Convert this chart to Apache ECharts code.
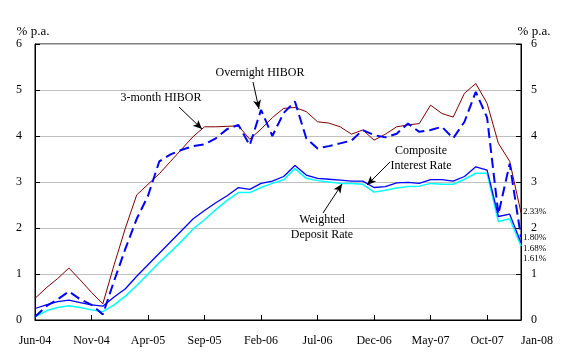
<!DOCTYPE html>
<html><head><meta charset="utf-8">
<script src="https://cdn.jsdelivr.net/npm/echarts@6/dist/echarts.min.js"></script>
<style>html,body{margin:0;padding:0;background:#fff}#c{width:561px;height:356px}</style>
</head><body><div id="c"></div>
<script>
const months = ['Jun-04','Jul-04','Aug-04','Sep-04','Oct-04','Nov-04','Dec-04',
  'Jan-05','Feb-05','Mar-05','Apr-05','May-05','Jun-05','Jul-05','Aug-05','Sep-05','Oct-05','Nov-05','Dec-05',
  'Jan-06','Feb-06','Mar-06','Apr-06','May-06','Jun-06','Jul-06','Aug-06','Sep-06','Oct-06','Nov-06','Dec-06',
  'Jan-07','Feb-07','Mar-07','Apr-07','May-07','Jun-07','Jul-07','Aug-07','Sep-07','Oct-07','Nov-07','Dec-07',
  'Jan-08'];
const hibor3m = [0.47,0.70,0.90,1.13,0.87,0.60,0.35,1.20,2.00,2.72,2.95,3.18,3.45,3.72,3.99,4.20,4.20,4.21,4.22,3.93,
  4.15,4.40,4.60,4.62,4.53,4.31,4.28,4.20,4.04,4.13,3.91,4.04,4.20,4.24,4.27,4.67,4.49,4.41,4.93,5.14,4.71,3.84,3.45,2.33];
const overnight = [0.07,0.30,0.45,0.62,0.45,0.33,0.12,0.85,1.55,2.20,2.70,3.45,3.60,3.70,3.78,3.82,3.95,4.15,4.24,3.80,
  4.57,4.00,4.50,4.75,3.95,3.73,3.78,3.84,3.90,4.13,4.02,3.97,4.05,4.27,4.09,4.13,4.20,3.95,4.31,4.96,4.40,2.30,3.40,1.80];
const composite = [0.25,0.33,0.40,0.43,0.38,0.33,0.30,0.50,0.68,0.95,1.20,1.45,1.70,1.95,2.20,2.38,2.55,2.70,2.88,2.84,
  2.97,3.02,3.12,3.36,3.15,3.08,3.06,3.04,3.02,3.02,2.88,2.90,2.98,2.99,2.97,3.05,3.05,3.02,3.12,3.33,3.26,2.25,2.30,1.68];
const deposit = [0.07,0.20,0.27,0.31,0.27,0.22,0.18,0.33,0.52,0.75,1.00,1.25,1.48,1.72,1.98,2.18,2.40,2.60,2.77,2.77,
  2.88,2.97,3.05,3.29,3.08,3.03,3.00,2.97,2.97,2.95,2.78,2.82,2.87,2.90,2.91,2.97,2.95,2.95,3.06,3.19,3.19,2.14,2.20,1.61];
const yMin = 0, yMax = 6, yStep = 1;
const unitName = '% p.a.';

const FF = "'Liberation Serif','Times New Roman',serif";
const chart = echarts.init(document.getElementById('c'), null, {renderer:'canvas'});
const lastIdx = months.length - 1;
const showTick = (i) => i % 5 === 0 || i === lastIdx;
function yAxisCfg(pos) {
  return {
    type:'value', position:pos, min:yMin, max:yMax, interval:yStep,
    name: unitName, nameLocation:'end', nameGap:5,
    nameTextStyle:{fontFamily:FF, fontSize:13, color:'#000', align:'center',
      padding: pos==='left' ? [0,4,0,0] : [0,0,0,26]},
    axisLine:{show:true, lineStyle:{color:'#000', width:1}},
    axisTick:{show:true, inside:true, length:5, lineStyle:{color:'#000'}},
    axisLabel:{fontFamily:FF, fontSize:12, color:'#000', margin: pos==='left' ? 13 : 10},
    splitLine:{show: pos==='left', lineStyle:{color:'#c0c0c0', width:1}}
  };
}
function endLbl(dy) {
  return {show:true, fontFamily:FF, fontSize:9, color:'#000', distance:2, offset:[0,dy],
    formatter:(p)=> p.value.toFixed(2) + '%'};
}
const option = {
  animation:false,
  backgroundColor:'#fff',
  grid:{left:35, right:40, top:44, bottom:36, show:true, borderColor:'#000', borderWidth:1},
  xAxis:{type:'category', data:months, boundaryGap:false,
    axisLine:{lineStyle:{color:'#000', width:1}},
    axisTick:{show:true, inside:true, length:5, interval:(i)=>showTick(i), lineStyle:{color:'#000'}},
    axisLabel:{interval:(i)=>showTick(i), fontFamily:FF, fontSize:12, color:'#000', margin:15,
      formatter:(v,i)=> i===lastIdx ? '{j|'+v+'}' : v,
      rich:{j:{fontFamily:FF, fontSize:12, color:'#000', width:64, align:'right', padding:[0,0,5,0]}}},
    splitLine:{show:false}
  },
  yAxis:[yAxisCfg('left'), yAxisCfg('right')],
  series:[
    {name:'Weighted Deposit Rate', type:'line', data:deposit, symbol:'none', lineStyle:{color:'#00ffff', width:1.5},
      itemStyle:{color:'#00ffff'}, endLabel:endLbl(13), z:2,
      markLine:{silent:true, symbol:['none','arrow'], symbolSize:[6,9], animation:false,
        lineStyle:{color:'#000', width:1, type:'solid'}, label:{show:false},
        data:[
          [{x:179,y:107},{x:202,y:129}],
          [{x:253,y:82},{x:259,y:109}],
          [{x:390,y:162},{x:367,y:185}],
          [{x:323,y:213},{x:342,y:184}]
        ]}},
    {name:'Composite Interest Rate', type:'line', data:composite, symbol:'none', lineStyle:{color:'#0000ff', width:1.3},
      itemStyle:{color:'#0000ff'}, endLabel:endLbl(6), z:3},
    {name:'3-month HIBOR', type:'line', data:hibor3m, symbol:'none', lineStyle:{color:'#800000', width:1},
      itemStyle:{color:'#800000'}, endLabel:endLbl(-1), z:4},
    {name:'Overnight HIBOR', type:'line', data:overnight, symbol:'none',
      lineStyle:{color:'#0000ff', width:2, type:[10,5]}, itemStyle:{color:'#0000ff'}, endLabel:endLbl(0), z:5}
  ],
  graphic:[
    {type:'text', x:260, y:73, style:{text:'Overnight HIBOR', font:'12px '+FF, fill:'#000', align:'center', verticalAlign:'middle'}},
    {type:'text', x:161, y:98, style:{text:'3-month HIBOR', font:'12px '+FF, fill:'#000', align:'center', verticalAlign:'middle'}},
    {type:'text', x:421, y:158, style:{text:'Composite\nInterest Rate', font:'12px '+FF, lineHeight:15, fill:'#000', align:'center', verticalAlign:'middle'}},
    {type:'text', x:322, y:227, style:{text:'Weighted\nDeposit Rate', font:'12px '+FF, lineHeight:15, fill:'#000', align:'center', verticalAlign:'middle'}}
  ]
};
chart.setOption(option);
</script>
</body></html>
